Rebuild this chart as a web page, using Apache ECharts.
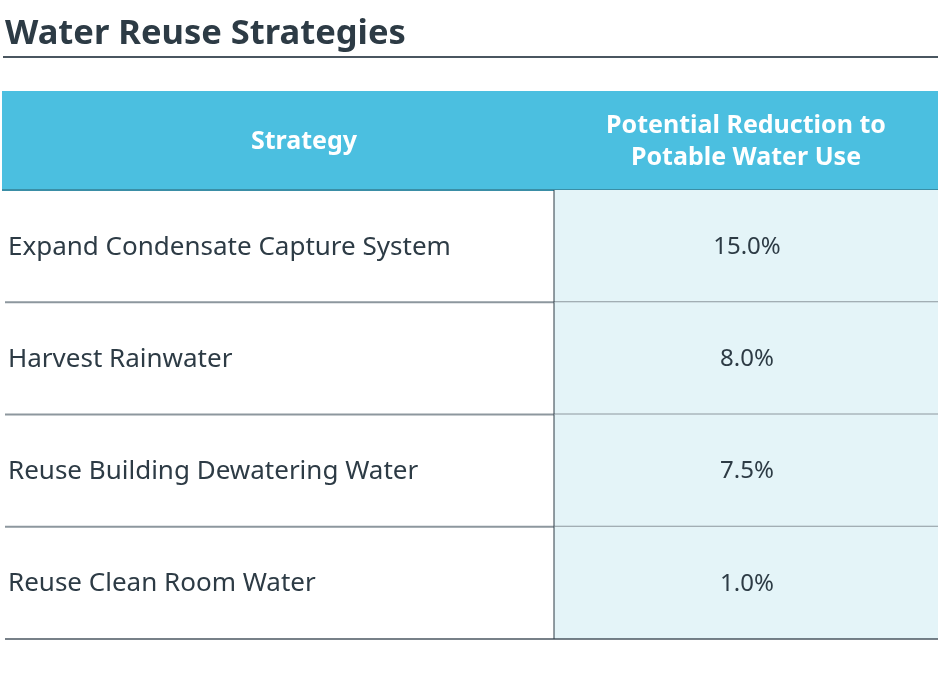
<!DOCTYPE html>
<html><head><meta charset="utf-8">
<script src="https://cdn.jsdelivr.net/npm/echarts@6/dist/echarts.min.js"></script>
<style>html,body{margin:0;padding:0;background:#fff}#c{width:938px;height:673px}</style>
</head><body><div id="c"></div>
<script>
const chartTitle = 'Water Reuse Strategies';
const headerLabels = ['Strategy', 'Potential Reduction to\nPotable Water Use'];
const strategies = ['Expand Condensate Capture System', 'Harvest Rainwater', 'Reuse Building Dewatering Water', 'Reuse Clean Room Water'];
const reductions = [15.0, 8.0, 7.5, 1.0];

const FONT = '"Noto Sans"';
const DARK = '#2d3b45';
const SPLIT = 549; // px from body grid left where the value column starts

const chart = echarts.init(document.getElementById('c'), null, {renderer: 'canvas'});

function headerItem(params, api) {
  const cs = params.coordSys;
  const yc = api.coord([0, api.value(0)])[1];
  const h = api.size([0, 1])[1];
  const top = yc - h / 2;
  const splitX = cs.x + SPLIT + 3;
  return {
    type: 'group',
    children: [
      {type: 'rect', shape: {x: cs.x, y: top, width: cs.width, height: h}, style: {fill: '#4bbfe0'}},
      {type: 'line', shape: {x1: cs.x, y1: top + h, x2: cs.x + cs.width, y2: top + h}, style: {stroke: '#3a8ea6', lineWidth: 2}},
      {type: 'text', style: {x: cs.x + 302, y: yc + 1, text: headerLabels[0], fill: '#fff', font: 'bold 25px ' + FONT, textAlign: 'center', textVerticalAlign: 'middle'}},
      {type: 'text', style: {x: (splitX + cs.x + cs.width) / 2, y: yc + 1, text: headerLabels[1], fill: '#fff', font: 'bold 25px ' + FONT, textAlign: 'center', textVerticalAlign: 'middle', lineHeight: 32}}
    ]
  };
}

function rowItem(params, api) {
  const cs = params.coordSys;
  const idx = api.value(0);
  const yc = api.coord([0, idx])[1];
  const h = api.size([0, 1])[1];
  const top = yc - h / 2;
  const splitX = cs.x + SPLIT;
  const last = idx === strategies.length - 1;
  return {
    type: 'group',
    children: [
      {type: 'rect', shape: {x: splitX, y: top, width: cs.x + cs.width - splitX, height: h}, style: {fill: '#e4f4f8'}},
      {type: 'line', shape: {x1: cs.x, y1: top + h, x2: cs.x + cs.width, y2: top + h}, style: {stroke: last ? '#4a5660' : '#8d979e', lineWidth: last ? 1.5 : 2}},
      {type: 'line', shape: {x1: splitX, y1: top, x2: splitX, y2: top + h}, style: {stroke: DARK, lineWidth: 1}},
      {type: 'text', style: {x: cs.x + 3, y: yc + 1, text: strategies[idx], fill: DARK, font: '26px ' + FONT, textAlign: 'left', textVerticalAlign: 'middle'}},
      {type: 'text', style: {x: (splitX + cs.x + cs.width) / 2 + 1, y: yc + 1, text: api.value(1).toFixed(1) + '%', fill: DARK, font: '24px ' + FONT, textAlign: 'center', textVerticalAlign: 'middle'}}
    ]
  };
}

chart.setOption({
  animation: false,
  title: {text: chartTitle, left: 0, top: 12, textStyle: {fontFamily: 'Noto Sans', fontWeight: 'bold', fontSize: 34.5, color: DARK}},
  graphic: [{type: 'line', shape: {x1: 3, y1: 57, x2: 938, y2: 57}, style: {stroke: '#4a5660', lineWidth: 2}}],
  grid: [
    {left: 2, right: 0, top: 91, height: 99},
    {left: 5, right: 0, top: 190, height: 449}
  ],
  xAxis: [
    {gridIndex: 0, type: 'value', min: 0, max: 1, show: false},
    {gridIndex: 1, type: 'value', min: 0, max: 1, show: false}
  ],
  yAxis: [
    {gridIndex: 0, type: 'category', data: ['header'], show: false},
    {gridIndex: 1, type: 'category', data: strategies, inverse: true, show: false}
  ],
  series: [
    {type: 'custom', xAxisIndex: 0, yAxisIndex: 0, data: [[0]], encode: {y: 0}, renderItem: headerItem},
    {type: 'custom', xAxisIndex: 1, yAxisIndex: 1, data: strategies.map((s, i) => [i, reductions[i]]), encode: {y: 0}, renderItem: rowItem}
  ]
});
</script></body></html>
